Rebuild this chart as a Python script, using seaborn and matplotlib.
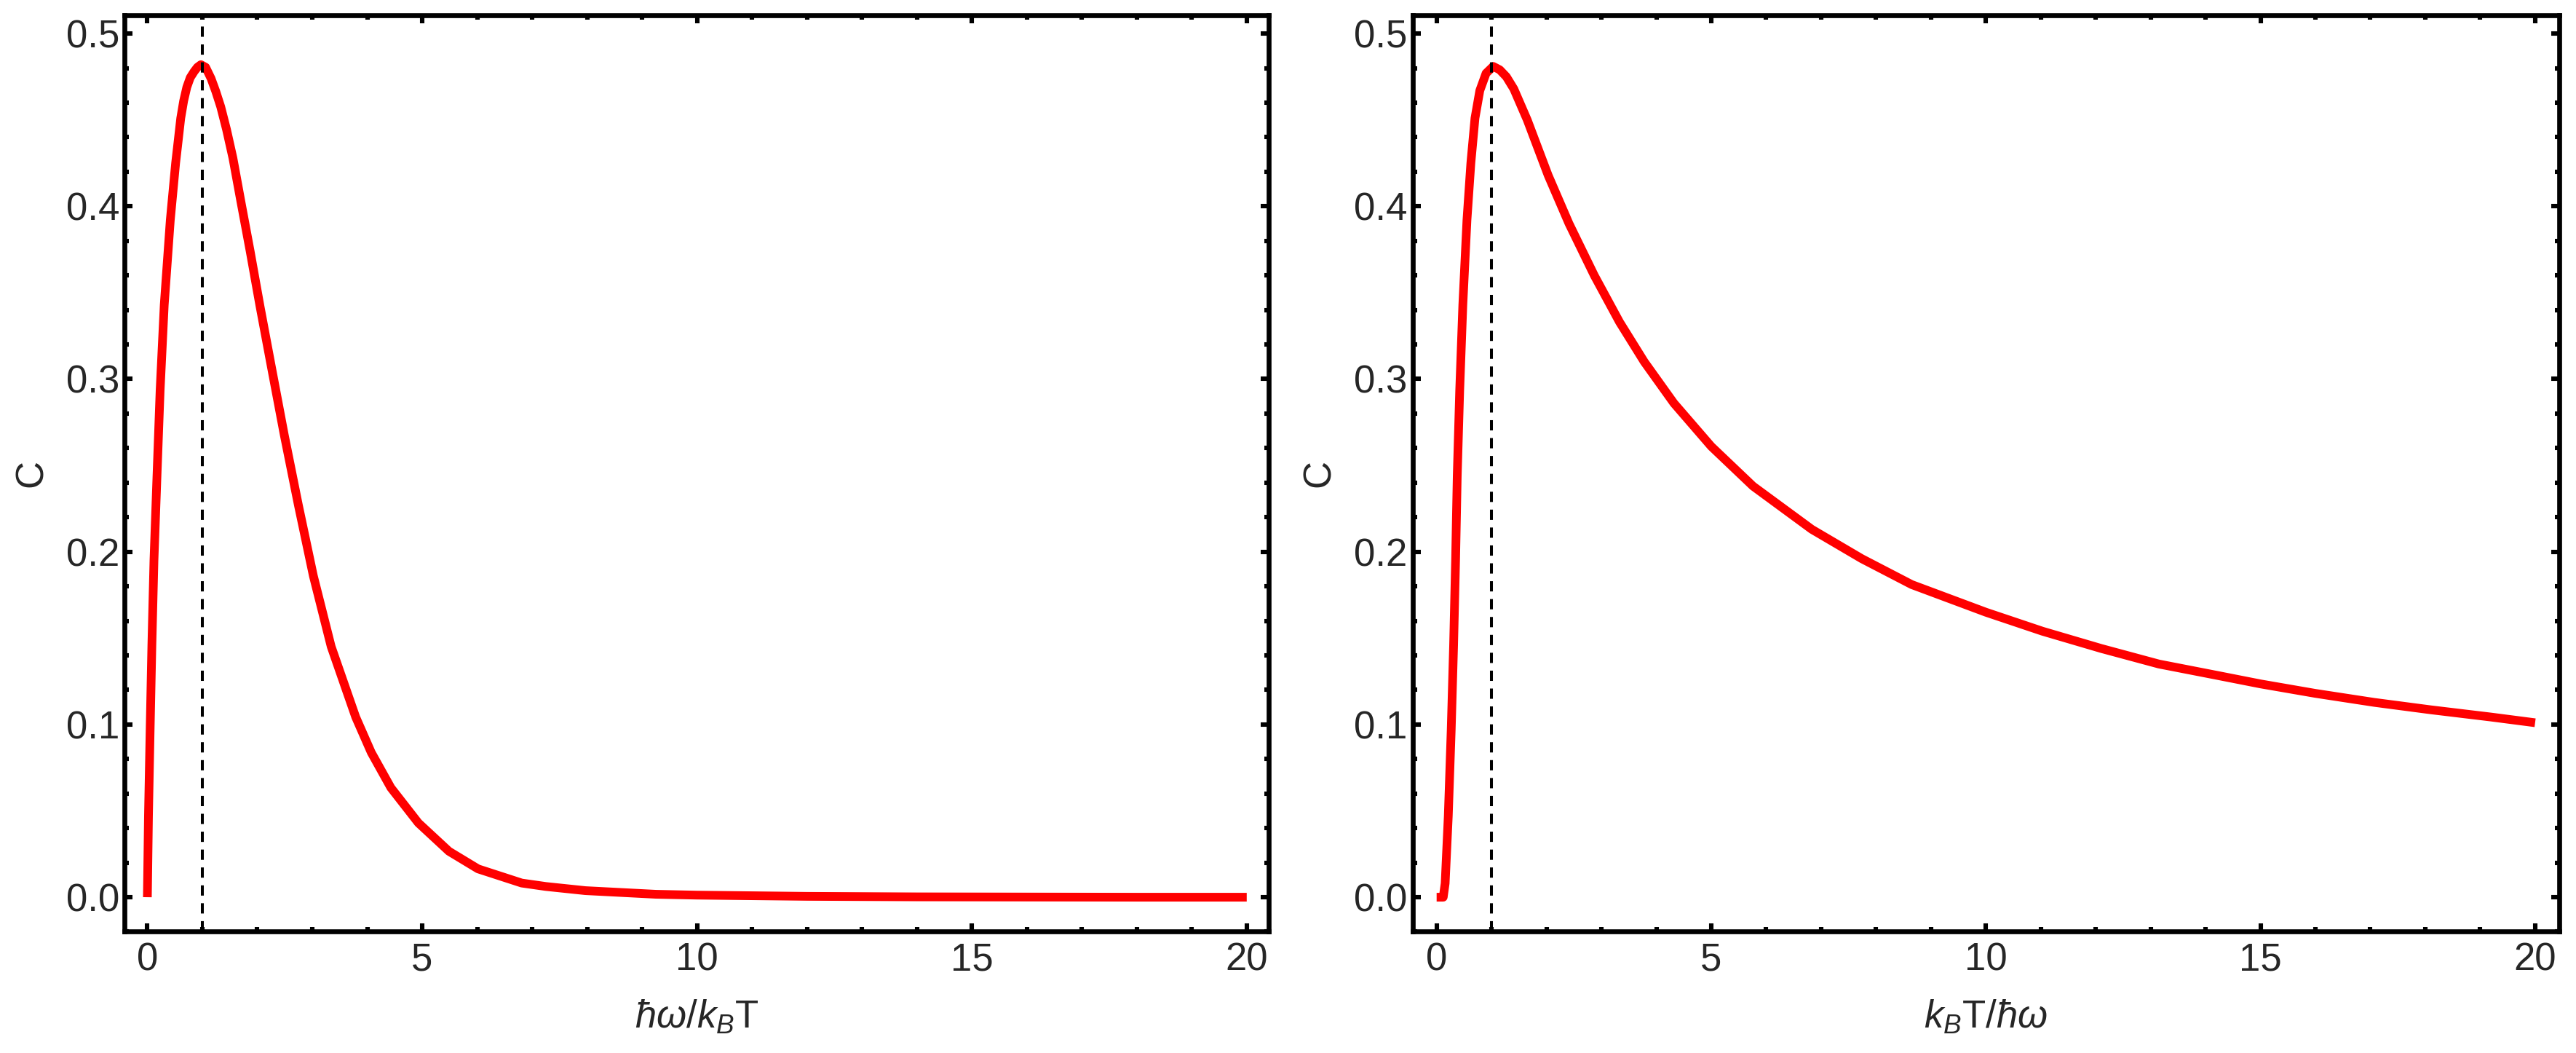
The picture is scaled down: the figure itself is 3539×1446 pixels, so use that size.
import numpy as np
import pandas as pd
import matplotlib
matplotlib.use("Agg")
import matplotlib.pyplot as plt
import seaborn as sns
from matplotlib.ticker import MultipleLocator, FormatStrFormatter

# values
left_x = [0.0, 0.02, 0.05, 0.082, 0.12, 0.175, 0.232, 0.307, 0.417, 0.514,
          0.55, 0.607, 0.66, 0.718, 0.78, 0.85, 0.91, 0.974, 1.06, 1.159,
          1.245, 1.335, 1.44, 1.556, 1.7, 1.87, 2.05, 2.247, 2.49,
          2.748, 3.02, 3.344, 3.79, 4.073, 4.43, 4.93, 5.486, 6.016, 6.81,
          7.25, 7.97, 9.25, 10.0, 12.0, 14.0, 16.0, 18.0, 20.0]
left_c = [0.0, 0.047, 0.0966, 0.146, 0.195, 0.244, 0.2935, 0.343, 0.392, 0.425,
          0.435, 0.451, 0.461, 0.469, 0.4745, 0.478, 0.4805, 0.482, 0.4805, 0.474,
          0.4665, 0.4576, 0.4445, 0.428, 0.403, 0.374, 0.342, 0.3086, 0.2677,
          0.2269, 0.186, 0.1451, 0.1043, 0.0838, 0.0634, 0.043, 0.0266, 0.0164, 0.0082,
          0.0062, 0.0038, 0.0017, 0.0012, 0.0005, 0.0002, 0.0001, 0.0, 0.0]

right_t = [0.0, 0.12, 0.155, 0.212, 0.265, 0.309, 0.345, 0.375, 0.42, 0.477,
           0.552, 0.623, 0.698, 0.786, 0.9, 1.03, 1.15, 1.27, 1.405, 1.65, 2.03,
           2.41, 2.87, 3.33, 3.78, 4.32, 5.0, 5.76, 6.83, 7.74, 8.65,
           10.0, 11.03, 12.1, 13.15, 14.2, 15.0, 16.0, 17.07, 18.1, 19.2, 20.0]
right_c = [0.0, 0.0, 0.008, 0.047, 0.0966, 0.146, 0.195, 0.244, 0.2935, 0.343,
           0.392, 0.425, 0.451, 0.467, 0.477, 0.481, 0.479, 0.475, 0.468, 0.45, 0.418,
           0.390, 0.360, 0.333, 0.310, 0.286, 0.261, 0.238, 0.213, 0.196, 0.181,
           0.165, 0.154, 0.144, 0.135, 0.1285, 0.1235, 0.118, 0.1128, 0.1085, 0.1043, 0.1010]

peak_x = 1.0
x_labels = [r"$\hbar\omega/k_B\mathrm{T}$", r"$k_B\mathrm{T}/\hbar\omega$"]

sns.set_style("ticks")
plt.rcParams["font.family"] = ["Liberation Sans", "DejaVu Sans"]
plt.rcParams["mathtext.fontset"] = "custom"
plt.rcParams["mathtext.rm"] = "Liberation Sans"
plt.rcParams["mathtext.it"] = "Liberation Sans:italic"
plt.rcParams["mathtext.bf"] = "Liberation Sans:bold"

fig = plt.figure(figsize=(3539 / 200, 1446 / 200), dpi=200)
ax1 = fig.add_axes([0.04846, 0.11515, 0.44405, 0.87067])
ax2 = fig.add_axes([0.54832, 0.11515, 0.44518, 0.87067])

df_left = pd.DataFrame({"x": left_x, "C": left_c})
df_right = pd.DataFrame({"x": right_t, "C": right_c})

for ax, df, xlim, xlab in [(ax1, df_left, (-0.41, 20.40), x_labels[0]),
                           (ax2, df_right, (-0.44, 20.44), x_labels[1])]:
    sns.lineplot(data=df, x="x", y="C", ax=ax, color="#ff0000",
                 linewidth=4.3, solid_capstyle="butt",
                 solid_joinstyle="round", zorder=2)
    ax.axvline(peak_x, color="black", linewidth=1.45,
               dashes=(3.5, 2.6), zorder=3)
    ax.set_xlim(*xlim)
    ax.set_ylim(-0.020, 0.5108)
    ax.xaxis.set_major_locator(MultipleLocator(5))
    ax.xaxis.set_minor_locator(MultipleLocator(1))
    ax.yaxis.set_major_locator(MultipleLocator(0.1))
    ax.yaxis.set_minor_locator(MultipleLocator(0.02))
    ax.yaxis.set_major_formatter(FormatStrFormatter("%.1f"))
    ax.tick_params(which="both", direction="in", top=True, right=True,
                   width=2.2, color="black")
    ax.tick_params(which="major", length=4.0, labelsize=19)
    ax.tick_params(which="minor", length=2.1)
    ax.tick_params(axis="x", which="major", pad=5)
    ax.tick_params(axis="y", which="major", pad=2.5)
    for sp in ax.spines.values():
        sp.set_linewidth(2.4)
        sp.set_color("black")
    ax.set_xlabel(xlab, fontsize=19, labelpad=10)
    ax.set_ylabel("C", fontsize=19, labelpad=8)

fig.savefig("out.png", dpi=200)
